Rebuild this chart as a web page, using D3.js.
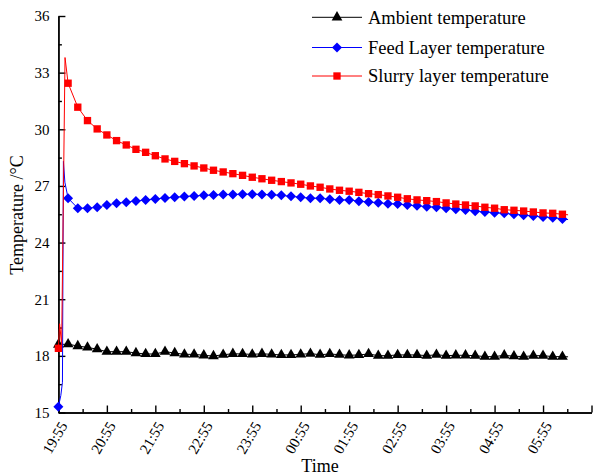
<!DOCTYPE html>
<html lang="en">
<head>
    <meta charset="UTF-8">
    <title>Temperature</title>
    <script src="https://cdn.jsdelivr.net/npm/d3@7/dist/d3.min.js"></script>
    <style>
        body { margin: 0; background: #fff; }
        svg { display: block; font-family: "Liberation Serif", "Times New Roman", serif; }
        .axis path, .axis line { stroke: #000; stroke-width: 1.4; }
        .axis text { font-size: 15px; fill: #000; font-family: "Liberation Serif", serif; }
        .legend text { font-size: 18.5px; }
    </style>
</head>
<body>
<svg width="595" height="475"></svg>
<script>
    // minutes after 19:55
    var times = [0, 12, 24, 36, 48, 60, 72, 84, 96, 108, 120, 132, 144, 156, 168, 180, 192, 204,
        216, 228, 240, 252, 264, 276, 288, 300, 312, 324, 336, 348, 360, 372, 384, 396, 408,
        420, 432, 444, 456, 468, 480, 492, 504, 516, 528, 540, 552, 564, 576, 588, 600, 612, 624];

    var ambient = [18.60, 18.62, 18.52, 18.45, 18.35, 18.22, 18.22, 18.22, 18.15, 18.10, 18.10,
        18.22, 18.15, 18.08, 18.08, 18.03, 17.99, 18.06, 18.11, 18.10, 18.08, 18.11, 18.08,
        18.05, 18.05, 18.08, 18.12, 18.06, 18.10, 18.06, 18.03, 18.05, 18.10, 18.01, 18.01,
        18.05, 18.05, 18.05, 18.01, 18.06, 18.01, 18.03, 18.03, 18.01, 17.96, 17.96, 18.03,
        17.98, 17.96, 18.01, 18.01, 17.96, 17.96];

    var feed = [15.30, 26.35, 25.82, 25.82, 25.87, 25.99, 26.08, 26.14, 26.20, 26.26, 26.31,
        26.36, 26.40, 26.44, 26.47, 26.50, 26.52, 26.54, 26.55, 26.56, 26.56, 26.55, 26.53,
        26.50, 26.45, 26.40, 26.35, 26.35, 26.29, 26.26, 26.26, 26.19, 26.15, 26.11, 26.06,
        26.04, 25.99, 25.95, 25.90, 25.87, 25.82, 25.76, 25.73, 25.66, 25.62, 25.58, 25.55,
        25.50, 25.45, 25.41, 25.36, 25.32, 25.25];

    var slurry = [18.40, 32.44, 31.17, 30.46, 30.02, 29.70, 29.40, 29.17, 28.94, 28.78, 28.60,
        28.43, 28.30, 28.18, 28.06, 27.95, 27.83, 27.74, 27.65, 27.56, 27.46, 27.38, 27.30,
        27.23, 27.16, 27.09, 27.00, 26.93, 26.84, 26.77, 26.72, 26.66, 26.59, 26.54, 26.47,
        26.40, 26.32, 26.26, 26.22, 26.17, 26.10, 26.04, 25.99, 25.94, 25.87, 25.82, 25.74,
        25.71, 25.67, 25.62, 25.57, 25.55, 25.50];

    // extra logged points without markers (start-up spike and last reading)
    var feedExtraTimes = [3, 5, 6.2, 8, 631];
    var feedExtra = [15.9, 16.6, 28.3, 27.2, 25.22];
    var slurryExtraTimes = [1.5, 4, 8.2, 631];
    var slurryExtra = [19.7, 18.6, 33.8, 25.47];
    var ambientExtraTimes = [631];
    var ambientExtra = [17.95];

    // the last tick (06:55) sits at the right edge, its label falls outside the picture
    var tickLabels = ["19:55", "20:55", "21:55", "22:55", "23:55", "00:55", "01:55",
        "02:55", "03:55", "04:55", "05:55"];
    var tickMinutes = [0, 60, 120, 180, 240, 300, 360, 420, 480, 540, 600, 660];
    var yTicks = [15, 18, 21, 24, 27, 30, 33, 36];

    var seriesNames = ["Ambient temperature", "Feed Layer temperature", "Slurry layer temperature"];
    var seriesColors = ["#000000", "#0000ff", "#ff0000"];
    var seriesShapes = [d3.symbolTriangle, d3.symbolSquare, d3.symbolSquare];
    var seriesSizes = [50, 50, 54];
    var seriesRotate = [0, 45, 0];

    var svg = d3.select("svg");

    var x = d3.scaleLinear().domain([0, 660]).range([58.4, 591.5]);
    var y = d3.scaleLinear().domain([15, 36]).range([412.5, 16]);

    function merge(t, v, et, ev) {
        var pts = t.map(function(d, i) { return {t: d, v: v[i]}; });
        et.forEach(function(d, i) { pts.push({t: d, v: ev[i]}); });
        pts.sort(function(a, b) { return a.t - b.t; });
        return pts;
    }

    var series = [
        {line: merge(times, ambient, ambientExtraTimes, ambientExtra), marks: ambient},
        {line: merge(times, feed, feedExtraTimes, feedExtra), marks: feed},
        {line: merge(times, slurry, slurryExtraTimes, slurryExtra), marks: slurry}
    ];

    // minor ticks
    var minorX = tickMinutes.slice(0, -1).map(function(d) { return d + 30; });
    var minorY = yTicks.slice(0, -1).map(function(d) { return d + 1.5; });

    svg.append("g").attr("class", "axis")
        .attr("transform", "translate(0," + y(15) + ")")
        .call(d3.axisBottom(x).tickValues(minorX).tickSize(-3.5).tickSizeOuter(0).tickFormat(""));
    svg.append("g").attr("class", "axis")
        .attr("transform", "translate(" + x(0) + ",0)")
        .call(d3.axisLeft(y).tickValues(minorY).tickSize(-3.5).tickSizeOuter(0).tickFormat(""));

    var xAxis = svg.append("g").attr("class", "axis")
        .attr("transform", "translate(0," + y(15) + ")")
        .call(d3.axisBottom(x).tickValues(tickMinutes).tickSize(-7).tickSizeOuter(0)
            .tickFormat(function(d, i) { return tickLabels[i] || ""; }));

    xAxis.selectAll("text")
        .attr("y", 0).attr("dy", 0)
        .attr("text-anchor", "end")
        .attr("transform", "translate(9,13) rotate(-60)");

    svg.append("g").attr("class", "axis")
        .attr("transform", "translate(" + x(0) + ",0)")
        .call(d3.axisLeft(y).tickValues(yTicks).tickSize(-7).tickSizeOuter(0).tickPadding(9));

    svg.append("text")
        .attr("x", 320).attr("y", 472)
        .attr("text-anchor", "middle")
        .style("font-size", "18px")
        .text("Time");

    svg.append("text")
        .attr("transform", "translate(23,215) rotate(-90)")
        .attr("text-anchor", "middle")
        .style("font-size", "18px")
        .text("Temperature /\u00B0C");

    var line = d3.line()
        .x(function(d) { return x(d.t); })
        .y(function(d) { return y(d.v); });

    series.forEach(function(s, k) {
        svg.append("path")
            .datum(s.line)
            .attr("fill", "none")
            .attr("stroke", seriesColors[k])
            .attr("stroke-width", 1)
            .attr("d", line);

        svg.append("g").selectAll("path")
            .data(s.marks)
            .enter()
            .append("path")
            .attr("transform", function(d, i) {
                return "translate(" + x(times[i]) + "," + y(d) + ") rotate(" + seriesRotate[k] + ")";
            })
            .attr("d", d3.symbol().type(seriesShapes[k]).size(seriesSizes[k]))
            .attr("fill", seriesColors[k]);
    });

    // legend
    var legendY = [17.3, 47.5, 76];
    var legend = svg.append("g").attr("class", "legend");
    seriesNames.forEach(function(name, k) {
        var g = legend.append("g").attr("transform", "translate(312," + legendY[k] + ")");
        g.append("line").attr("x1", 0).attr("x2", 50)
            .attr("stroke", seriesColors[k]).attr("stroke-width", 1);
        g.append("path").attr("transform", "translate(25,0) rotate(" + seriesRotate[k] + ")")
            .attr("d", d3.symbol().type(seriesShapes[k]).size(seriesSizes[k]))
            .attr("fill", seriesColors[k]);
        g.append("text").attr("x", 56).attr("dy", "0.35em").text(name);
    });
</script>
</body>
</html>
